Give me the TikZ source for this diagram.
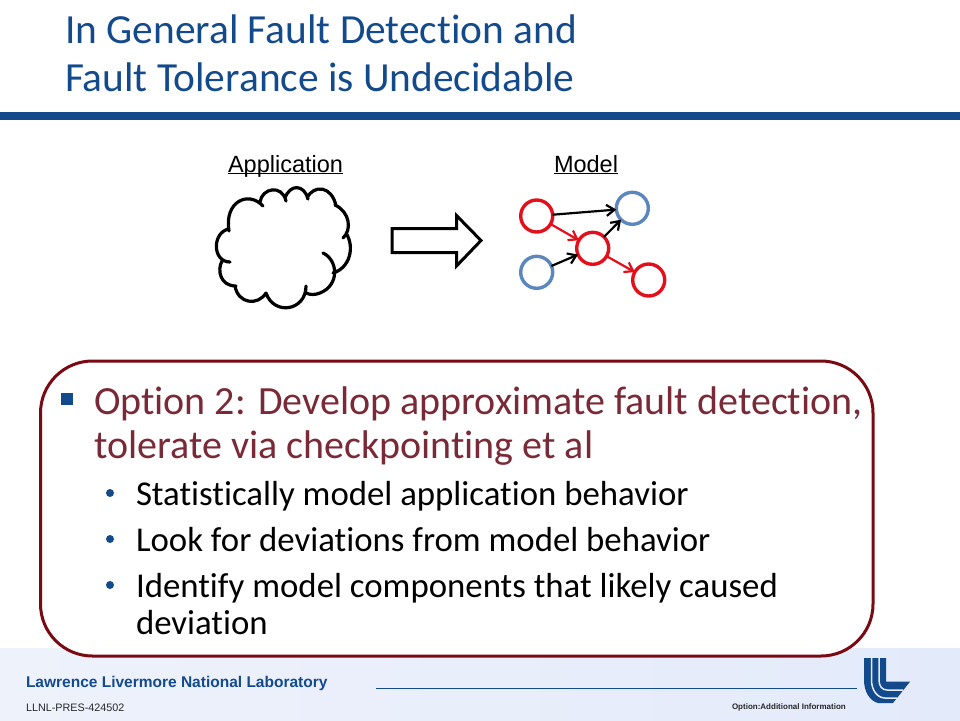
\documentclass[tikz,border=0pt]{standalone}
\usepackage{fontspec}
\setmainfont[Ligatures=NoCommon]{Carlito}
\setsansfont{Liberation Sans}
\usepackage{tikz}
\usetikzlibrary{positioning}
\usetikzlibrary{arrows.meta}
\definecolor{llnlblue}{HTML}{134A8C}
\definecolor{boxred}{HTML}{7A0A12}
\definecolor{optred}{HTML}{7A2A36}
\definecolor{faultred}{HTML}{E3101C}
\definecolor{okblue}{HTML}{5B86BE}
\definecolor{footL}{HTML}{EEF2FB}
\definecolor{footR}{HTML}{E3EAFA}
\tikzset{
	every node/.style={inner sep=0pt, outer sep=0pt},
	titletext/.style={anchor=base west, text=llnlblue, font=\fontsize{41.4}{41.4}\selectfont},
	optiontext/.style={anchor=base west, text=optred, font=\fontsize{40}{40}\selectfont},
	subtext/.style={anchor=base west, text=black, font=\fontsize{34.8}{34.8}\selectfont},
	subbullet/.style={circle, fill=llnlblue, minimum size=8pt},
	headtext/.style={anchor=base, text=black, font=\sffamily\fontsize{23.5}{23.5}\selectfont},
	faultstate/.style={circle, draw=faultred, fill=white, line width=3.4pt, minimum size=32pt},
	okstate/.style={circle, draw=okblue, fill=white, line width=3.4pt, minimum size=32pt},
	flow/.style={->, >={Straight Barb[length=8pt,width=11pt]}, line width=2.2pt},
}
\begin{document}
\begin{tikzpicture}[x=1pt, y=-1pt, on grid]
\useasboundingbox (0,0) rectangle (960,720);

% footer and title rule
\fill [left color=footL, right color=footR] (0,648) rectangle (960,720);
\fill [llnlblue] (0,112) rectangle (960,120);

\node [titletext] (title1) at (65,43) {In General Fault Detection and};
\node [titletext, below=48pt of title1.base west, anchor=base west] (title2) {Fault Tolerance is Undecidable};

\node [headtext] (app) at (285.5,172) {\underline{\smash{Application}}};
\node [headtext] (model) at (586,172) {\underline{\smash{Model}}};

% cloud
\draw [line width=3.2pt, line cap=round, line join=round]
	(229,231) .. controls (224,202) and (248,190) .. (263,206)
	(260,202) .. controls (262,188) and (282,184) .. (286,201)
	(285,198) .. controls (290,184) and (304,184) .. (308,199)
	(307,198) .. controls (314,184) and (332,186) .. (336,206)
	(335,205) .. controls (350,212) and (352,230) .. (343,238)
	(346,233) .. controls (355,247) and (350,268) .. (333,273)
	(323,253) .. controls (338,260) and (340,285) .. (320,293) .. controls (315,295) and (310,295) .. (306,293)
	(306,286) .. controls (306,311) and (274,316) .. (266,293)
	(266,293) .. controls (258,306) and (238,304) .. (235,286)
	(236,286) .. controls (220,286) and (217,270) .. (222,261)
	(230,262) .. controls (212,262) and (212,232) .. (229,229);

% block arrow
\draw [line width=3pt, fill=white, miter limit=10] (392,228.5) -- (456.5,228.5) -- (456.5,215.5) -- (481,240.5) -- (456.5,266) -- (456.5,252.5) -- (392,252.5) -- cycle;

% model graph
\node [faultstate] (n1) at (536.7,216) {};
\node [okstate]    (n2) [above right=7.7pt and 95.6pt of n1] {};
\node [faultstate] (n3) [below right=32.3pt and 56pt of n1] {};
\node [okstate]    (n4) [below=56.3pt of n1] {};
\node [faultstate] (n5) [below right=31.7pt and 56pt of n3] {};

\path [flow]
	(n1) edge [black]     (n2)
	     edge [faultred]  (n3)
	(n4) edge [black]     (n3)
	(n3) edge [black]     (n2)
	     edge [faultred]  (n5);

% option box
\draw [draw=boxred, fill=white, line width=3pt, rounded corners=52pt] (40.5,361) rectangle (873,656);
\fill [llnlblue] (61,393) rectangle (73,405);

\node [optiontext] (opt1) at (94,414) {Option 2: Develop approximate fault detection,};
\node [optiontext, below=44pt of opt1.base west, anchor=base west] (opt2) {tolerate via checkpointing et al};

\node [subtext] (sub1) at (136,505) {Statistically model application behavior};
\node [subtext, below=46pt of sub1.base west, anchor=base west] (sub2) {Look for deviations from model behavior};
\node [subtext, below=46pt of sub2.base west, anchor=base west] (sub3) {Identify model components that likely caused};
\node [subtext, below=37pt of sub3.base west, anchor=base west] (sub4) {deviation};
\node [subbullet] (b1) at (110,493) {};
\node [subbullet] (b2) at (110,539) {};
\node [subbullet] (b3) at (110,585) {};

% footer texts
\node [anchor=base west, text=llnlblue, font=\sffamily\bfseries\fontsize{15.5}{15.5}\selectfont] (lab) at (26,687) {Lawrence Livermore National Laboratory};
\node [anchor=base west, text=black!85, font=\sffamily\fontsize{10.8}{10.8}\selectfont] (pres) at (26,711) {LLNL-PRES-424502};
\node [anchor=base west, text=black!85, font=\sffamily\bfseries\fontsize{8}{8}\selectfont] (info) at (732,709) {Option:Additional Information};
\coordinate (ruleL) at (376,688);
\coordinate (ruleR) at (857,688);
\draw [llnlblue, line width=1pt] (ruleL) -- (ruleR);

% logo
\fill [llnlblue] (864,658) -- (886,658) -- (886,681.7) -- (910,681.7) -- (893,703) -- (878,703) .. controls (870,701) and (864,692) .. (864,680) -- cycle;
\draw [footR, line width=1.5pt] (871.5,658) -- (871.5,680) .. controls (871.5,691) and (878,698) .. (885,698) -- (897,698);
\draw [footR, line width=1.5pt] (879,658) -- (879,680) .. controls (879,686) and (882,690) .. (887,690) -- (903,690);
\end{tikzpicture}
\end{document}
